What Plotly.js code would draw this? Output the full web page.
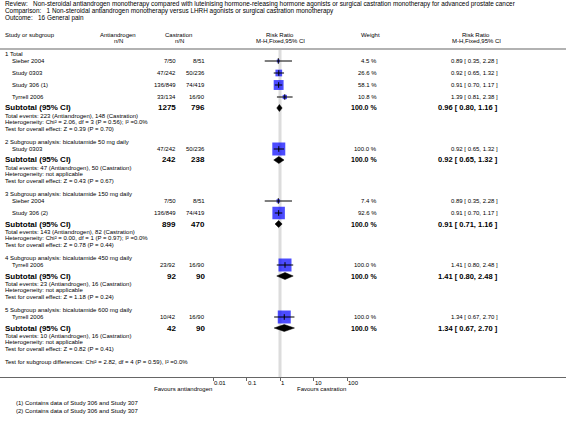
<!DOCTYPE html>
<html><head><meta charset="utf-8">
<script src="https://cdn.plot.ly/plotly-3.0.1.min.js"></script>
<style>html,body{margin:0;padding:0;background:#fff}#chart{width:566px;height:422px}</style>
</head><body><div id="chart"></div>
<script>
const titleLines = [
  "Review:   Non-steroidal antiandrogen monotherapy compared with luteinising hormone-releasing hormone agonists or surgical castration monotherapy for advanced prostate cancer",
  "Comparison:   1 Non-steroidal antiandrogen monotherapy versus LHRH agonists or surgical castration monotherapy",
  "Outcome:   16 General pain"
];
const groupNames = [
  "1 Total",
  "2 Subgroup analysis: bicalutamide 50 mg daily",
  "3 Subgroup analysis: bicalutamide 150 mg daily",
  "4 Subgroup analysis: bicalutamide 450 mg daily",
  "5 Subgroup analysis: bicalutamide 600 mg daily"
];
const studyGroup   = [0, 0, 0, 0, 1, 2, 2, 3, 4];
const studyNames   = ["Sieber 2004","Study 0303","Study 306 (1)","Tyrrell 2006","Study 0303","Sieber 2004","Study 306 (2)","Tyrrell 2006","Tyrrell 2006"];
const antiEvents   = [7, 47, 136, 33, 47, 7, 136, 23, 10];
const antiTotals   = [50, 242, 849, 134, 242, 50, 849, 92, 42];
const castEvents   = [8, 50, 74, 16, 50, 8, 74, 16, 16];
const castTotals   = [51, 236, 419, 90, 236, 51, 419, 90, 90];
const studyRR      = [0.89, 0.92, 0.91, 1.39, 0.92, 0.89, 0.91, 1.41, 1.34];
const studyLo      = [0.35, 0.65, 0.70, 0.81, 0.65, 0.35, 0.70, 0.80, 0.67];
const studyHi      = [2.28, 1.32, 1.17, 2.38, 1.32, 2.28, 1.17, 2.48, 2.70];
const studyWeight  = [4.5, 26.6, 58.1, 10.8, 100.0, 7.4, 92.6, 100.0, 100.0];

const subAntiTotal  = [1275, 242, 899, 92, 42];
const subCastTotal  = [796, 238, 470, 90, 90];
const subAntiEvents = [223, 47, 143, 23, 10];
const subCastEvents = [148, 50, 82, 16, 16];
const subRR = [0.96, 0.92, 0.91, 1.41, 1.34];
const subLo = [0.80, 0.65, 0.71, 0.80, 0.67];
const subHi = [1.16, 1.32, 1.16, 2.48, 2.70];
const heterogeneity = ["Chi² = 2.06, df = 3 (P = 0.56); I² =0.0%", "not applicable", "Chi² = 0.00, df = 1 (P = 0.97); I² =0.0%", "not applicable", "not applicable"];
const overallZ = ["0.39", "0.43", "0.78", "1.18", "0.82"];
const overallP = ["0.70", "0.67", "0.44", "0.24", "0.41"];
const subgroupDiff = "Test for subgroup differences: Chi² = 2.82, df = 4 (P = 0.59), I² =0.0%";
const tickVals = [0.01, 0.1, 1, 10, 100];
const tickLabels = ["0.01", "0.1", "1", "10", "100"];
const favoursLeft = "Favours antiandrogen";
const favoursRight = "Favours castration";
const footnotes = ["(1) Contains data of Study 306 and Study 307", "(2) Contains data of Study 306 and Study 307"];

const W = 566, H = 422;
const F = '"Liberation Sans", Arial, Helvetica, sans-serif';
const AXIS_Y = 377;
const ann = [];
function px(x){ return x / W; }
function py(y){ return 1 - y / H; }
function txt(x, y, text, anchor, size){
  ann.push({xref:'paper', yref:'paper', x:px(x), y:py(y), text:text, showarrow:false,
    xanchor:anchor||'left', yanchor:'middle', borderpad:0,
    font:{family:F, size:size||6, color:'#000'}});
}
const fmt2 = v => v.toFixed(2);
const ciText = (r,l,h) => fmt2(r) + " [ " + fmt2(l) + ", " + fmt2(h) + " ]";

// columns
const X_LEFT = 4, X_STUDY = 11, X_ANTI = 177, X_CAST = 206, X_WEIGHT = 378, X_CI = 499;

// title
titleLines.forEach((t,i) => txt(X_LEFT, 4 + i*7, t, 'left', 6.4));
// headers
txt(X_LEFT, 35, "Study or subgroup");
txt(118, 35, "Antiandrogen", 'center'); txt(118, 41, "n/N", 'center');
txt(178, 35, "Castration", 'center'); txt(179, 41, "n/N", 'center');
txt(280, 35, "Risk Ratio", 'center'); txt(280, 41, "M-H,Fixed,95% CI", 'center');
txt(370, 35, "Weight", 'center');
txt(476, 35, "Risk Ratio", 'center'); txt(476, 41, "M-H,Fixed,95% CI", 'center');

// row layout
const studyY = new Array(studyNames.length);
const subY = [];
let y = 54;
groupNames.forEach((g, gi) => {
  txt(X_LEFT, y, g);
  y += 7;
  studyNames.forEach((s, i) => {
    if (studyGroup[i] !== gi) return;
    studyY[i] = y;
    txt(X_STUDY, y, s);
    txt(X_ANTI, y, antiEvents[i] + "/" + antiTotals[i], 'right');
    txt(X_CAST, y, castEvents[i] + "/" + castTotals[i], 'right');
    txt(X_WEIGHT, y, studyWeight[i].toFixed(1) + " %", 'right');
    txt(X_CI, y, ciText(studyRR[i], studyLo[i], studyHi[i]), 'right');
    y += 12;
  });
  y = y - 12 + 11;
  subY[gi] = y;
  txt(X_LEFT, y, "<b>Subtotal (95% CI)</b>", 'left', 8);
  txt(X_ANTI, y, "<b>" + subAntiTotal[gi] + "</b>", 'right', 8);
  txt(X_CAST, y, "<b>" + subCastTotal[gi] + "</b>", 'right', 8);
  txt(X_WEIGHT, y, "<b>100.0 %</b>", 'right', 7);
  txt(X_CI, y, "<b>" + ciText(subRR[gi], subLo[gi], subHi[gi]) + "</b>", 'right', 7.5);
  y += 8;
  txt(X_LEFT, y, "Total events: " + subAntiEvents[gi] + " (Antiandrogen), " + subCastEvents[gi] + " (Castration)");
  y += 6;
  txt(X_LEFT, y, "Heterogeneity: " + heterogeneity[gi]);
  y += 7;
  txt(X_LEFT, y, "Test for overall effect: Z = " + overallZ[gi] + " (P = " + overallP[gi] + ")");
  y += 13;
});
txt(X_LEFT, y, subgroupDiff);

// axis labels
tickVals.forEach((v, i) => ann.push({xref:'x', yref:'paper', x:Math.log10(v), y:py(383), text:tickLabels[i],
  showarrow:false, xanchor:'left', yanchor:'middle', borderpad:0, font:{family:F, size:6, color:'#000'}}));
ann.push({xref:'x', yref:'paper', x:Math.log10(tickVals[0]), y:py(389), text:favoursLeft, showarrow:false,
  xanchor:'right', yanchor:'middle', borderpad:0, font:{family:F, size:6, color:'#000'}});
ann.push({xref:'x', yref:'paper', x:Math.log10(tickVals[tickVals.length-1]), y:py(389), text:favoursRight, showarrow:false,
  xanchor:'right', yanchor:'middle', borderpad:0, font:{family:F, size:6, color:'#000'}});
footnotes.forEach((f, i) => txt(15, 403 + i*8, f));

// traces
const traces = [];
traces.push({x:[1,1], y:[50, AXIS_Y], mode:'lines', line:{color:'#dcdcdc', width:3}, hoverinfo:'skip'});
traces.push({x:studyRR, y:studyY, mode:'markers', hoverinfo:'skip',
  marker:{symbol:'square', color:'#0000ff', size:studyWeight.map(w => Math.max(3, 13*Math.sqrt(w/100))), line:{width:0}}});
const cx = [], cy = [];
studyRR.forEach((r, i) => { cx.push(studyLo[i], studyHi[i], null); cy.push(studyY[i], studyY[i], null); });
traces.push({x:cx, y:cy, mode:'lines', line:{color:'#000', width:1}, hoverinfo:'skip'});
traces.push({x:studyRR, y:studyY, mode:'markers', hoverinfo:'skip',
  marker:{symbol:'line-ns', size:4, color:'#000', line:{color:'#000', width:1}}});
const dx = [], dy = [];
subRR.forEach((r, g) => {
  dx.push(subLo[g], r, subHi[g], r, subLo[g], null);
  dy.push(subY[g], subY[g]-3.5, subY[g], subY[g]+3.5, subY[g], null);
});
traces.push({x:dx, y:dy, mode:'lines', fill:'toself', fillcolor:'#000', line:{color:'#000', width:0.5}, hoverinfo:'skip'});

const PXDEC = 33.5, X1 = 280;
const layout = {
  width:W, height:H, margin:{l:0, r:0, t:0, b:0}, showlegend:false,
  paper_bgcolor:'#fff', plot_bgcolor:'#fff',
  xaxis:{type:'log', range:[-X1/PXDEC, (W-X1)/PXDEC], domain:[0,1], showgrid:false, zeroline:false,
    showline:true, linecolor:'#666', linewidth:1, ticks:'outside', ticklen:3, tickcolor:'#666', tickwidth:1,
    tickvals:tickVals, showticklabels:false, fixedrange:true},
  yaxis:{range:[AXIS_Y, 0], domain:[1 - AXIS_Y/H, 1], visible:false, fixedrange:true},
  shapes:[{type:'line', xref:'paper', yref:'paper', x0:0, x1:1, y0:py(49), y1:py(49), line:{color:'#999', width:1.5}}],
  annotations:ann
};
Plotly.newPlot('chart', traces, layout, {staticPlot:true, displayModeBar:false});
</script>
</body></html>
